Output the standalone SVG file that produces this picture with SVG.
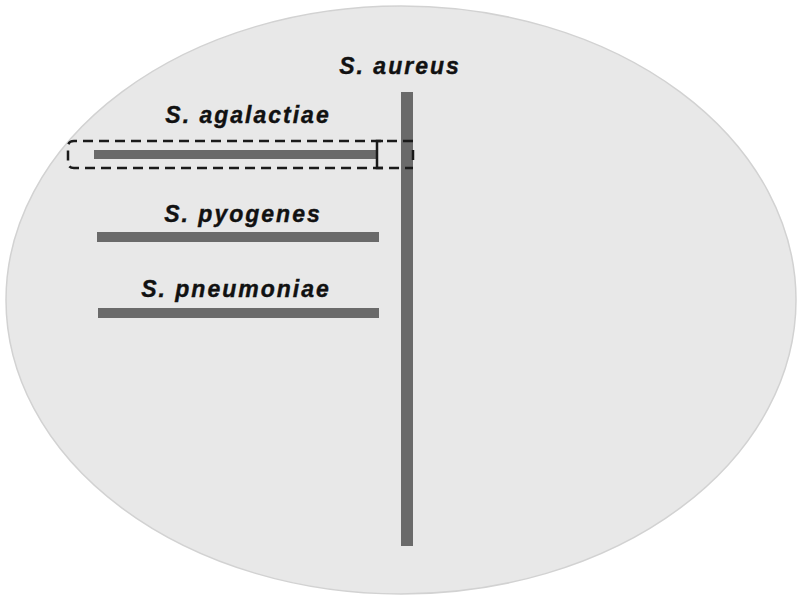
<svg xmlns="http://www.w3.org/2000/svg" width="800" height="600" viewBox="0 0 800 600">
<style>
.bar{fill:#6a6a6a}
.lbl{font-family:"Liberation Sans",Arial,sans-serif;font-weight:bold;font-style:italic;font-size:23px;fill:#111;stroke:#111;stroke-width:0.4;letter-spacing:2px;text-anchor:middle}
.dash{fill:none;stroke:#1a1a1a;stroke-width:2.5;stroke-dasharray:10,6}
</style>
<rect x="0" y="0" width="800" height="600" fill="#ffffff"/>
<g id="background">
<ellipse cx="401" cy="300" rx="395" ry="294" fill="#e8e8e8" stroke="#d2d2d2" stroke-width="1.5"/>
</g>
<g id="connectors">
<rect id="aureus-line" class="bar" x="401" y="92" width="12" height="454"/>
<rect id="agalactiae-line" class="bar" x="94" y="150" width="283" height="9"/>
<rect id="pyogenes-line" class="bar" x="97" y="232" width="282" height="10"/>
<rect id="pneumoniae-line" class="bar" x="98" y="308" width="281" height="10"/>
</g>
<g id="node-aureus">
<text class="lbl" x="400" y="74">S. aureus</text>
</g>
<g id="node-agalactiae">
<text class="lbl" x="248" y="123">S. agalactiae</text>
</g>
<g id="node-pyogenes">
<text class="lbl" x="243" y="222">S. pyogenes</text>
</g>
<g id="node-pneumoniae">
<text class="lbl" x="236" y="297">S. pneumoniae</text>
</g>
<g id="highlight">
<path class="dash" d="M413 141 H74 Q68 141 68 147 V162 Q68 168 74 168 H413"/>
<path d="M383 141 H377 V168 H383" fill="none" stroke="#1a1a1a" stroke-width="2.5"/>
<path d="M413 150 V160" fill="none" stroke="#1a1a1a" stroke-width="2.5"/>
</g>
</svg>
